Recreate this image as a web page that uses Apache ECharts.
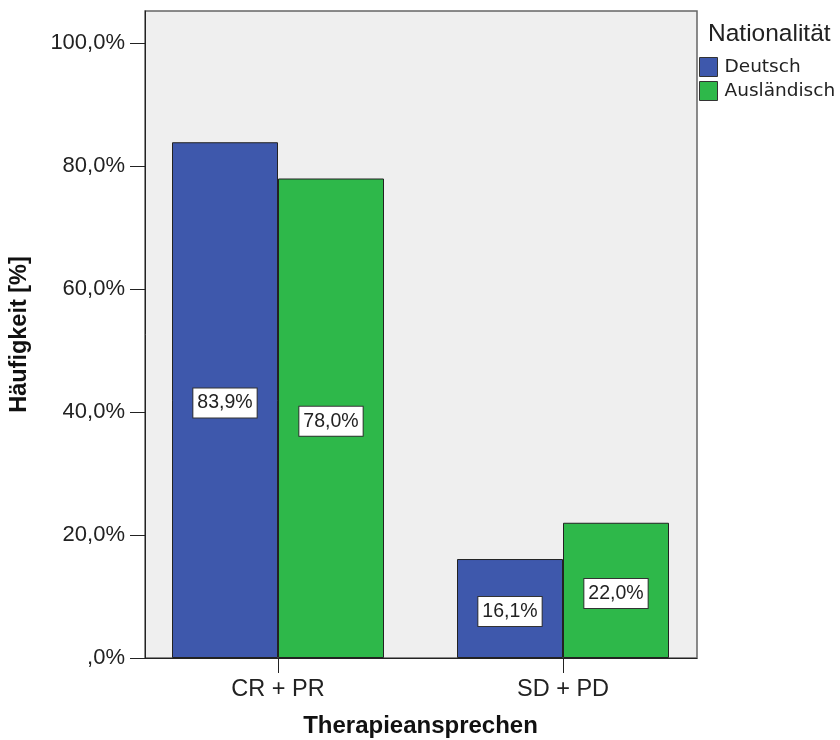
<!DOCTYPE html>
<html>
<head>
<meta charset="utf-8">
<script src="https://cdn.jsdelivr.net/npm/echarts@6/dist/echarts.min.js"></script>
<style>html,body{margin:0;padding:0;background:#fff}#c{width:840px;height:740px}</style>
</head>
<body>
<div id="c"></div>
<script>
const categories = ['CR + PR', 'SD + PD'];
const seriesNames = ['Deutsch', 'Ausländisch'];
const deutsch = [83.9, 16.1];
const auslaendisch = [78.0, 22.0];
const yTicks = [0, 20, 40, 60, 80, 100];
const legendTitle = 'Nationalität';
const xTitle = 'Therapieansprechen';
const yTitle = 'Häufigkeit [%]';

const fmt = v => (v === 0 ? ',0' : v.toFixed(1).replace('.', ',')) + '%';
const colors = ['#3e58ac', '#2eb84a'];
const FONT = 'Liberation Sans';
const YMAX = 105.25;

const labelStyle = {
  show: true, position: 'inside', offset: [0, 3],
  formatter: p => fmt(p.value),
  backgroundColor: '#fff', borderColor: '#333', borderWidth: 1,
  padding: [5, 4, 4, 4], fontSize: 19.5, fontFamily: FONT, color: '#222'
};

const chart = echarts.init(document.getElementById('c'), null, {renderer: 'canvas'});
chart.setOption({
  animation: false,
  title: {
    text: legendTitle, left: 708, top: 22, padding: 0,
    textStyle: {fontFamily: FONT, fontSize: 24.5, fontWeight: 'normal', color: '#222'}
  },
  legend: {
    orient: 'vertical', left: 699, top: 57, padding: 0, itemWidth: 18, itemHeight: 19, itemGap: 4,
    icon: 'rect',
    data: seriesNames,
    textStyle: {fontFamily: 'DejaVu Sans', fontSize: 18.5, color: '#222', padding: [3, 0, 0, 2]},
    itemStyle: {borderColor: '#333', borderWidth: 1}
  },
  grid: [
    {left: 145, right: 143, top: 11, bottom: 82, show: true, backgroundColor: '#efefef', borderColor: '#666', borderWidth: 1.5, containLabel: false, outerBoundsMode: 'none'},
    {left: 135.5, right: 134.5, top: 11, bottom: 82, containLabel: false, outerBoundsMode: 'none'}
  ],
  xAxis: [
    {gridIndex: 0, type: 'value', min: 0, max: 1, axisLine: {show: true, lineStyle: {color: '#222', width: 1}}, axisTick: {show: false}, axisLabel: {show: false}, splitLine: {show: false}},
    {gridIndex: 1, type: 'category', data: categories,
      axisLine: {show: false},
      axisTick: {show: true, alignWithLabel: true, length: 15, lineStyle: {color: '#222'}},
      axisLabel: {margin: 20, fontFamily: FONT, fontSize: 23.5, color: '#222'},
      name: xTitle, nameLocation: 'middle', nameGap: 56,
      nameTextStyle: {fontFamily: FONT, fontSize: 24, fontWeight: 'bold', color: '#111'}
    }
  ],
  yAxis: [
    {gridIndex: 0, type: 'value', min: 0, max: YMAX,
      axisLine: {show: true, lineStyle: {color: '#222', width: 1}},
      axisTick: {show: true, length: 15, customValues: yTicks, lineStyle: {color: '#222'}},
      axisLabel: {margin: 20, customValues: yTicks, formatter: v => fmt(v), fontFamily: FONT, fontSize: 22, color: '#222'},
      splitLine: {show: false},
      name: yTitle, nameLocation: 'middle', nameGap: 113,
      nameTextStyle: {fontFamily: FONT, fontSize: 23.5, fontWeight: 'bold', color: '#111'}
    },
    {gridIndex: 1, type: 'value', min: 0, max: YMAX, show: false}
  ],
  series: [
    {name: seriesNames[0], type: 'bar', xAxisIndex: 1, yAxisIndex: 1, data: deutsch, barWidth: 106, barGap: '0%',
      itemStyle: {color: colors[0], borderColor: '#222', borderWidth: 1}, label: labelStyle},
    {name: seriesNames[1], type: 'bar', xAxisIndex: 1, yAxisIndex: 1, data: auslaendisch, barWidth: 106, barGap: '0%',
      itemStyle: {color: colors[1], borderColor: '#222', borderWidth: 1}, label: labelStyle}
  ]
});
</script>
</body>
</html>
